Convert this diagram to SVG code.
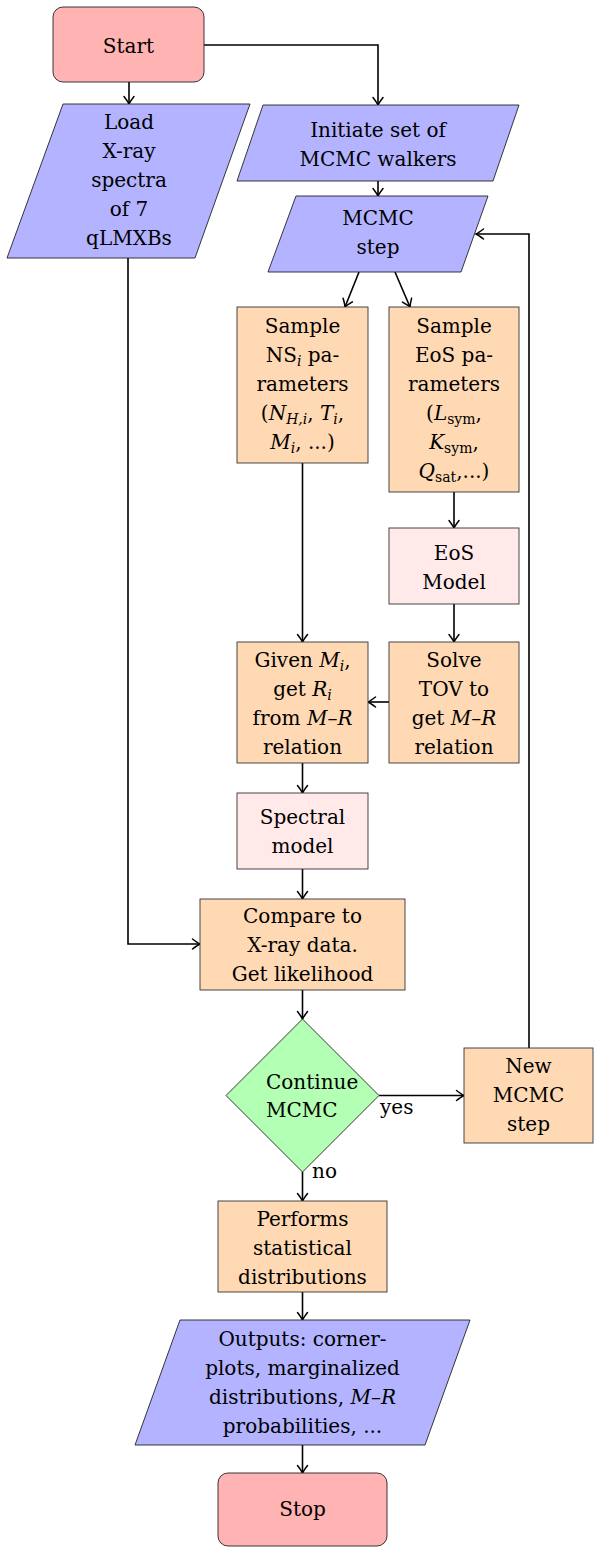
<svg xmlns="http://www.w3.org/2000/svg" width="594" height="1547" viewBox="0 0 594 1547">
<style>
text{font-family:"DejaVu Serif","Liberation Serif",serif;font-size:20px;fill:#000;text-anchor:middle}
.lbl{text-anchor:start}
.term{fill:#ffb3b3;stroke:#222;stroke-width:0.9}
.io{fill:#b3b3ff;stroke:#222;stroke-width:0.9}
.proc{fill:#ffd9b3;stroke:#333;stroke-width:0.9}
.model{fill:#ffe9e9;stroke:#333;stroke-width:0.9}
.dec{fill:#b3ffb3;stroke:#222;stroke-width:0.9}
.edge{fill:none;stroke:#000;stroke-width:1.6;marker-end:url(#arr)}
.i{font-style:italic}
.s{font-size:14px}
</style>
<defs>
<marker id="arr" markerUnits="userSpaceOnUse" markerWidth="14" markerHeight="14" viewBox="-10 -7 12 14" refX="0" refY="0" orient="auto">
<path d="M-7.5,-5 Q-2.5,-1.2 0,0 Q-2.5,1.2 -7.5,5" fill="none" stroke="#000" stroke-width="1.5" stroke-linecap="round"/>
</marker>
</defs>

<g id="edges">
<path class="edge" d="M129,82 V104"/>
<path class="edge" d="M204,45 H378 V105"/>
<path class="edge" d="M378,181 V196"/>
<path class="edge" d="M359,272 L345,307"/>
<path class="edge" d="M395,272 L410,307"/>
<path class="edge" d="M302.5,463 V642"/>
<path class="edge" d="M454,492 V528"/>
<path class="edge" d="M454,604 V642"/>
<path class="edge" d="M389,702 H368"/>
<path class="edge" d="M302.5,763 V793"/>
<path class="edge" d="M302.5,869 V899"/>
<path class="edge" d="M128,258 V944 H200"/>
<path class="edge" d="M302.5,990 V1019"/>
<path class="edge" d="M379,1095.5 H464"/>
<path class="edge" d="M529,1048 V234 H476"/>
<path class="edge" d="M302.5,1172 V1201"/>
<path class="edge" d="M302.5,1292 V1320"/>
<path class="edge" d="M302.5,1445 V1473"/>
<text class="lbl" x="380" y="1114">yes</text>
<text class="lbl" x="312" y="1178">no</text>
</g>

<g id="start">
<rect class="term" x="53" y="7" width="151" height="75" rx="10"/>
<text x="128.5" y="53">Start</text>
</g>

<g id="load">
<polygon class="io" points="63,104 250,104 195,258 7,258"/>
<text x="129" y="129">Load</text>
<text x="129" y="158">X-ray</text>
<text x="129" y="187">spectra</text>
<text x="129" y="216">of 7</text>
<text x="129" y="245">qLMXBs</text>
</g>

<g id="initiate">
<polygon class="io" points="263,105 519,105 493,181 237,181"/>
<text x="378" y="137">Initiate set of</text>
<text x="378" y="166">MCMC walkers</text>
</g>

<g id="mcmcstep">
<polygon class="io" points="296,196 488,196 461,272 268,272"/>
<text x="378" y="225">MCMC</text>
<text x="378" y="254">step</text>
</g>

<g id="samplens">
<rect class="proc" x="237" y="307" width="131" height="156"/>
<text x="302.5" y="333">Sample</text>
<text x="302.5" y="362">NS<tspan class="i s" dy="4">i</tspan><tspan dy="-4"> pa-</tspan></text>
<text x="302.5" y="391">rameters</text>
<text x="302.5" y="420">(<tspan class="i">N</tspan><tspan class="i s" dy="4">H,i</tspan><tspan dy="-4">, </tspan><tspan class="i">T</tspan><tspan class="i s" dy="4">i</tspan><tspan dy="-4">,</tspan></text>
<text x="302.5" y="449"><tspan class="i">M</tspan><tspan class="i s" dy="4">i</tspan><tspan dy="-4">, ...)</tspan></text>
</g>

<g id="sampleeos">
<rect class="proc" x="389" y="307" width="130" height="185"/>
<text x="454" y="333">Sample</text>
<text x="454" y="362">EoS pa-</text>
<text x="454" y="391">rameters</text>
<text x="454" y="420">(<tspan class="i">L</tspan><tspan class="s" dy="4">sym</tspan><tspan dy="-4">,</tspan></text>
<text x="454" y="449"><tspan class="i">K</tspan><tspan class="s" dy="4">sym</tspan><tspan dy="-4">,</tspan></text>
<text x="454" y="478"><tspan class="i">Q</tspan><tspan class="s" dy="4">sat</tspan><tspan dy="-4">,...)</tspan></text>
</g>

<g id="eosmodel">
<rect class="model" x="389" y="528" width="130" height="76"/>
<text x="454" y="560">EoS</text>
<text x="454" y="589">Model</text>
</g>

<g id="given">
<rect class="proc" x="237" y="642" width="131" height="121"/>
<text x="302.5" y="667">Given <tspan class="i">M</tspan><tspan class="i s" dy="4">i</tspan><tspan dy="-4">,</tspan></text>
<text x="302.5" y="696">get <tspan class="i">R</tspan><tspan class="i s" dy="4">i</tspan></text>
<text x="302.5" y="725">from <tspan class="i">M</tspan>–<tspan class="i">R</tspan></text>
<text x="302.5" y="754">relation</text>
</g>

<g id="solve">
<rect class="proc" x="389" y="642" width="130" height="121"/>
<text x="454" y="667">Solve</text>
<text x="454" y="696">TOV to</text>
<text x="454" y="725">get <tspan class="i">M</tspan>–<tspan class="i">R</tspan></text>
<text x="454" y="754">relation</text>
</g>

<g id="spectral">
<rect class="model" x="237" y="793" width="131" height="76"/>
<text x="302.5" y="824">Spectral</text>
<text x="302.5" y="853">model</text>
</g>

<g id="compare">
<rect class="proc" x="200" y="899" width="205" height="91"/>
<text x="302.5" y="923">Compare to</text>
<text x="302.5" y="952">X-ray data.</text>
<text x="302.5" y="981">Get likelihood</text>
</g>

<g id="decision">
<polygon class="dec" points="302.5,1019 379,1095.5 302.5,1172 226,1095.5"/>
<text class="lbl" x="266" y="1089">Continue</text>
<text class="lbl" x="266" y="1117">MCMC</text>
</g>

<g id="newstep">
<rect class="proc" x="464" y="1048" width="129" height="95"/>
<text x="528.5" y="1073">New</text>
<text x="528.5" y="1102">MCMC</text>
<text x="528.5" y="1131">step</text>
</g>

<g id="performs">
<rect class="proc" x="218" y="1201" width="169" height="91"/>
<text x="302.5" y="1226">Performs</text>
<text x="302.5" y="1255">statistical</text>
<text x="302.5" y="1284">distributions</text>
</g>

<g id="outputs">
<polygon class="io" points="180,1320 470,1320 425,1445 135,1445"/>
<text x="302.5" y="1346">Outputs: corner-</text>
<text x="302.5" y="1375">plots, marginalized</text>
<text x="302.5" y="1404">distributions, <tspan class="i">M</tspan>–<tspan class="i">R</tspan></text>
<text x="302.5" y="1433">probabilities, ...</text>
</g>

<g id="stop">
<rect class="term" x="218" y="1473" width="169" height="73" rx="10"/>
<text x="302.5" y="1516">Stop</text>
</g>
</svg>
